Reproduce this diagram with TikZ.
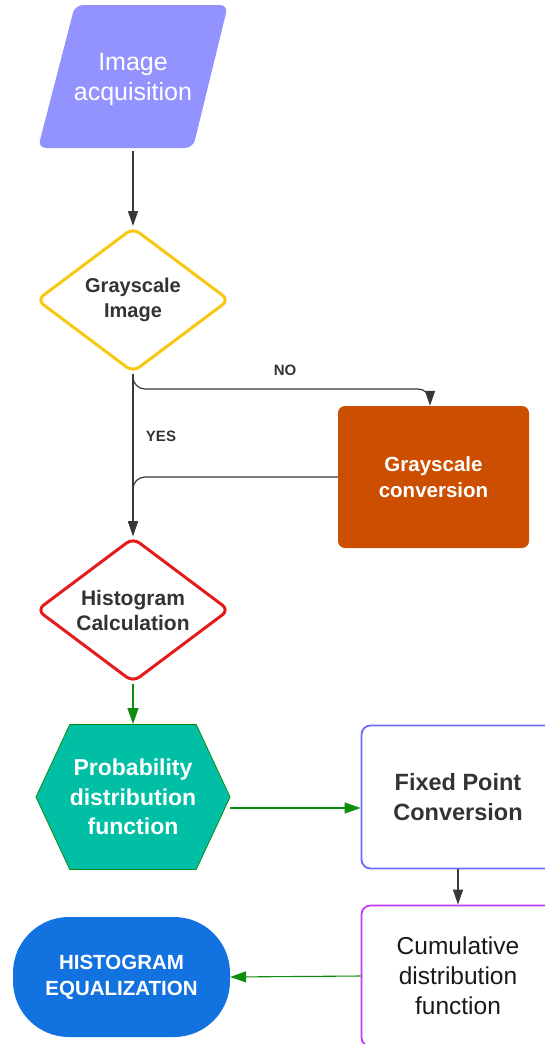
\documentclass[tikz,border=0pt]{standalone}
\usepackage{fontspec}
\setmainfont{Liberation Sans}
\usetikzlibrary{shapes.geometric, shapes.symbols, arrows.meta, positioning}
\definecolor{FC_Lavender}{HTML}{9393FF}
\definecolor{FC_Yellow}{HTML}{F9C80E}
\definecolor{FC_Rust}{HTML}{CC4E00}
\definecolor{FC_Red}{HTML}{E51A1A}
\definecolor{FC_Teal}{HTML}{00BFA5}
\definecolor{FC_Green}{HTML}{0E8C0E}
\definecolor{FC_Violet}{HTML}{6B6BFF}
\definecolor{FC_Magenta}{HTML}{C23BF5}
\definecolor{FC_Blue}{HTML}{1172E0}
\definecolor{FC_Ink}{HTML}{333333}
\definecolor{FC_Arrow}{HTML}{383838}

\begin{document}
\begin{tikzpicture}[x=1pt, y=-1pt,
    txt/.style 2 args={align=center, font=\fontsize{#1}{#2}\selectfont},
    decision/.style={diamond, aspect=1.33, inner sep=0pt, minimum width=193pt, minimum height=145pt,
        line width=3pt, rounded corners=8pt, fill=white, text=FC_Ink},
    darkarrow/.style={draw=FC_Arrow, line width=1.2pt, -{Triangle[width=10pt,length=15pt]}},
    greenarrow/.style={draw=FC_Green, line width=1.1pt, -{Triangle[width=11pt,length=16pt]}}]
    \useasboundingbox (0,0) rectangle (545,1044);

    % Left column
    \fill[FC_Lavender, rounded corners=8pt] (38,148) -- (75,5) -- (228,5) -- (193,148) -- cycle;
    \node[minimum height=143pt, inner sep=0pt, text=white, txt={25}{30}] (acq) at (133,79) {Image\\acquisition};
    \node[decision, draw=FC_Yellow, txt={20}{25}] (gray) at (133,300) {\bfseries Grayscale\\\bfseries Image};
    \node[decision, draw=FC_Red, txt={21}{25}] (hist) at (133,610) {\bfseries Histogram\\\bfseries Calculation};
    \node[signal, signal to=west and east, signal pointer angle=130, minimum width=190pt, minimum height=145pt,
        inner sep=0pt, fill=FC_Teal, draw=FC_Green, line width=0.8pt, text=white, txt={23}{29.5}]
        (pdf) at (133,797) {\bfseries Probability\\\bfseries distribution\\\bfseries function};
    \node[rectangle, rounded corners=56pt, minimum width=217pt, minimum height=120pt, fill=FC_Blue,
        text=white, txt={20.5}{26}] (term) at (121.5,977) {\bfseries HISTOGRAM\\\bfseries EQUALIZATION};

    % Right column
    \node[rectangle, rounded corners=7pt, minimum width=191pt, minimum height=142pt, fill=FC_Rust,
        text=white, txt={20.5}{26}] (conv) at (433.5,477) {\bfseries Grayscale\\\bfseries conversion};
    \node[rectangle, rounded corners=9pt, minimum width=193pt, minimum height=143pt, draw=FC_Violet,
        line width=1.8pt, text=FC_Ink, txt={23.5}{30}] (fixed) at (458,797) {\bfseries Fixed Point\\\bfseries Conversion};
    \node[rectangle, rounded corners=9pt, minimum width=193pt, minimum height=141pt, draw=FC_Magenta,
        line width=1.8pt, text=black!90, txt={24.5}{30}] (cdf) at (458,976) {Cumulative\\distribution\\function};

    % Connectors
    \coordinate (noturn) at (430,389);
    \draw[darkarrow] (acq.south) -- (gray.north);
    \draw[darkarrow] (gray.south) -- (hist.north);
    \draw[darkarrow, rounded corners=12pt] (gray.south) |- (noturn) [sharp corners] -- (noturn |- conv.north);
    \draw[darkarrow, rounded corners=12pt] (conv.west) -| (hist.north);
    \node[text=FC_Ink, txt={15}{18}] (no) at (285,370) {\bfseries NO};
    \node[text=FC_Ink, txt={15}{18}] (yes) at (161,436) {\bfseries YES};
    \draw[greenarrow] (hist.south) -- (pdf.north);
    \draw[greenarrow] ([yshift=-11pt]pdf.east) -- ([yshift=-11pt]fixed.west);
    \draw[darkarrow] (fixed.south) -- (cdf.north);
    \draw[greenarrow] (cdf.west) -- (term.east);
\end{tikzpicture}
\end{document}
